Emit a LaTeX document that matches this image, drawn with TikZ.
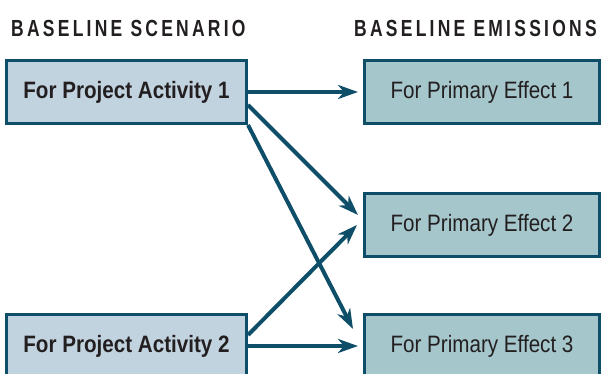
\documentclass[tikz,border=0pt]{standalone}
\usepackage{fontspec}
\setmainfont{Liberation Sans}[FakeStretch=0.87]
\newfontfamily\headfont{Liberation Sans}[FakeStretch=0.75,LetterSpace=14]
\usetikzlibrary{arrows.meta,positioning}
\definecolor{actfill}{HTML}{C2D3E0}
\definecolor{efffill}{HTML}{A5C6CB}
\definecolor{edgecol}{HTML}{0E4E68}
\definecolor{txtcol}{HTML}{231F20}

\begin{document}
\begin{tikzpicture}[
  x=1pt, y=1pt,
  box/.style={draw=edgecol, line width=2.6pt, minimum height=63.4pt, text=txtcol,
    font=\fontsize{23.7}{28}\selectfont},
  act/.style={box, fill=actfill, minimum width=240.4pt,
    font=\fontsize{23.7}{28}\selectfont\bfseries},
  eff/.style={box, fill=efffill, minimum width=235.4pt},
  hdr/.style={inner sep=0pt, anchor=base west, text=txtcol,
    font=\headfont\fontsize{23.3}{28}\selectfont\bfseries},
  link/.style={draw=edgecol, line width=4pt,
    -{Stealth[length=20pt,width=14pt,inset=6pt]}},
]
  \useasboundingbox (0,0) rectangle (608,374);

  % Project activities
  \node[act] (act1) at (126.5,282) {For Project Activity 1};
  \node[act, below=188pt of act1] (act2) {For Project Activity 2};

  % Primary effects
  \node[eff, right=115pt of act1] (eff1) {For Primary Effect 1};
  \node[eff, below=67pt of eff1] (eff2) {For Primary Effect 2};
  \node[eff, below=55pt of eff2] (eff3) {For Primary Effect 3};

  % Headings
  \node[hdr, above=22pt of act1.north west, anchor=base west, xshift=6pt] (hscen) {BASELINE SCENARIO};
  \node[hdr, above=22pt of eff1.north west, anchor=base west, xshift=-9pt] (hemis) {BASELINE EMISSIONS};

  % Links
  \draw[link] (act1.east) -- ([xshift=-5pt]eff1.west);
  \draw[link] ([yshift=-13pt]act1.east) -- ([xshift=-5pt,yshift=10pt]eff2.west);
  \draw[link] (act1.south east) -- ([xshift=-10pt,yshift=17pt]eff3.west);
  \draw[link] ([yshift=11pt]act2.east) -- ([xshift=-6pt]eff2.west);
  \draw[link] (act2.east) -- ([xshift=-5pt]eff3.west);
\end{tikzpicture}
\end{document}
